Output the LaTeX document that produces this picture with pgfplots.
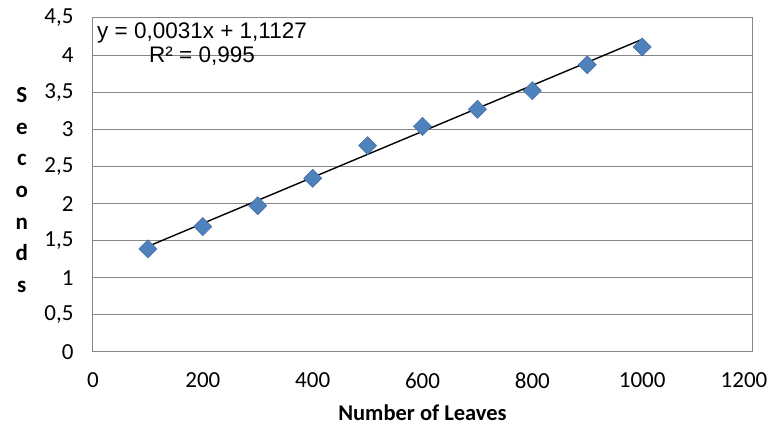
\documentclass[border=0pt]{standalone}
\usepackage{pgfplots}
\pgfplotsset{compat=1.18}
\usepackage{fontspec}
\setmainfont{Carlito}
\newfontfamily\arialf{Liberation Sans}
\definecolor{mblue}{HTML}{4F81BD}
\definecolor{gridg}{HTML}{868686}
\begin{document}
\begin{tikzpicture}[x=1pt,y=1pt]
\path[use as bounding box] (-93,-75) rectangle (680,334+18);
\begin{axis}[
  at={(0,0)}, anchor=south west,
  scale only axis, width=659pt, height=334pt,
  xmin=0, xmax=1200, ymin=0, ymax=4.5,
  xtick={0,200,...,1200}, ytick={0,0.5,...,4.5},
  xticklabels={0,200,400,600,800,1000,\hspace*{-16pt}1200},
  /pgf/number format/use comma,
  /pgf/number format/1000 sep={},
  /pgf/number format/assume math mode=true,
  tick label style={font=\fontsize{23}{26}\selectfont},
  yticklabel style={xshift=-16pt},
  xticklabel style={yshift=-17pt},
  major tick length=0pt,
  ymajorgrids, grid style={gridg, line width=1pt},
  axis line style={gridg, line width=1pt},
  clip=false,
]
\addplot[only marks, mark=square*, mark size=6.4pt, mark options={rotate=45, fill=mblue, draw=mblue!85!black, line width=0.5pt}]
coordinates {(100,1.39)(200,1.69)(300,1.97)(400,2.34)(500,2.78)(600,3.04)(700,3.27)(800,3.52)(900,3.87)(1000,4.11)};
\addplot[black, line width=1.4pt] coordinates {(100,1.4227)(1000,4.2127)};
\node[anchor=north west, font=\arialf\fontsize{22.5}{24}\selectfont, inner sep=0pt, align=left] at (axis description cs:0.006,0.985) {y = 0,0031x + 1,1127};
\node[anchor=north west, font=\arialf\fontsize{22.5}{24}\selectfont, inner sep=0pt] at (axis description cs:0.085,0.915) {R² = 0,995};
\node[font=\bfseries\fontsize{23}{31.7}\selectfont, align=center, inner sep=0pt] at (axis description cs:-0.108,0.485) {S\\e\\c\\o\\n\\d\\s};
\node[font=\bfseries\fontsize{22.5}{26}\selectfont, inner sep=0pt] at (axis description cs:0.5,-0.182) {Number of Leaves};
\end{axis}
\end{tikzpicture}
\end{document}
